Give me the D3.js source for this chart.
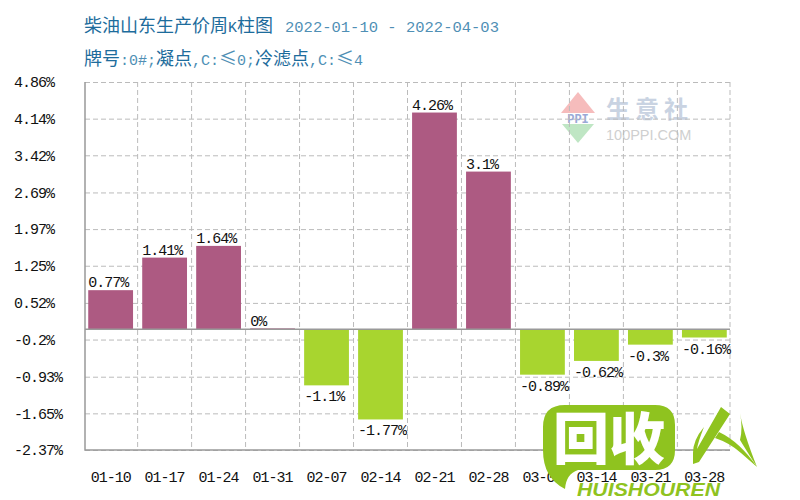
<!DOCTYPE html>
<html>
<head>
<meta charset="utf-8">
<script src="https://cdn.jsdelivr.net/npm/d3@7"></script>
<style>
    html, body { margin: 0; padding: 0; background: #fff; }
    svg { display: block; }
    text { font-family: "Liberation Mono", "Noto Sans CJK SC", monospace; }
    .cjk { font-family: "Noto Sans CJK SC", sans-serif; }
    .grid-lines line { stroke: #bbb; stroke-dasharray: 5 3; }
    .yAxis text, .xAxis text, .value-label { font-size: 15px; letter-spacing: -1px; fill: #111; }
</style>
</head>
<body>
<div id="chart"></div>
<script>
var categories = ["01-10", "01-17", "01-24", "01-31", "02-07", "02-14", "02-21", "02-28", "03-07", "03-14", "03-21", "03-28"];
var values = [0.77, 1.41, 1.64, 0, -1.1, -1.77, 4.26, 3.1, -0.89, -0.62, -0.3, -0.16];
var yTicks = [4.86, 4.14, 3.42, 2.69, 1.97, 1.25, 0.52, -0.2, -0.93, -1.65, -2.37];

var margin = { top: 82, right: 70, bottom: 50, left: 85 }
    , width = 800 - margin.left - margin.right
    , height = 500 - margin.top - margin.bottom;

var svg = d3.select("#chart").append("svg")
    .attr("width", 800)
    .attr("height", 500);

// title lines, mixed CJK and half width text
function titleLine(y, parts) {
    var t = svg.append("text").attr("x", 84).attr("y", y);
    parts.forEach(function (p) {
        t.append("tspan")
            .attr("class", p.cjk ? "cjk" : null)
            .attr("x", p.x || null)
            .attr("font-size", p.size || (p.cjk ? 18 : 15))
            .attr("fill", p.fill)
            .text(p.text);
    });
}
var dark = "#1d6c9c", light = "#4f8fb5";
titleLine(32, [
    { text: "柴油山东生产价周", cjk: true, fill: dark },
    { text: "K", fill: dark },
    { text: "柱图", cjk: true, fill: dark },
    { text: "2022-01-10 - 2022-04-03", fill: light, x: 285, size: 15.5 }
]);
titleLine(65, [
    { text: "牌号", cjk: true, fill: dark },
    { text: ":0#;", fill: light },
    { text: "凝点", cjk: true, fill: dark },
    { text: ",C:", fill: light },
    { text: "≤", cjk: true, fill: light },
    { text: "0;", fill: light },
    { text: "冷滤点", cjk: true, fill: dark },
    { text: ",C:", fill: light },
    { text: "≤", cjk: true, fill: light },
    { text: "4", fill: light }
]);

var xScale = d3.scaleBand()
    .domain(categories)
    .range([0, width])
    .paddingInner(0.17)
    .paddingOuter(0.06);

var yScale = d3.scaleLinear()
    .domain([yTicks[yTicks.length - 1], yTicks[0]])
    .range([height, 0]);

var g = svg.append("g")
    .attr("transform", "translate(" + margin.left + "," + margin.top + ")");

// watermark sits under the grid
var mark = g.append("g").attr("transform", "translate(478,10)");
mark.append("path").attr("d", "M15 0 L32 21 L-2 21 Z").attr("fill", "#f6bcbc");
mark.append("path").attr("d", "M-1 32 L31 32 L15 51 Z").attr("fill", "#bfe6c4");
mark.append("text").attr("x", 15).attr("y", 31)
    .attr("font-size", 12).attr("font-weight", 700)
    .attr("text-anchor", "middle")
    .attr("fill", "#9aa9d6")
    .text("PPI");
mark.append("text").attr("class", "cjk").attr("x", 43).attr("y", 26)
    .attr("font-size", 24).attr("letter-spacing", 5).attr("font-weight", 700)
    .attr("fill", "#c9d3e2").text("生意社");
mark.append("text").attr("x", 43).attr("y", 48)
    .attr("font-size", 14.5).attr("fill", "#cfcfcf")
    .style("font-family", "'Liberation Sans', sans-serif")
    .text("100PPI.COM");

// horizontal grid lines
g.append("g")
    .attr("class", "grid-lines")
    .call(d3.axisLeft(yScale)
        .tickValues(yTicks)
        .tickSize(-width)
        .tickFormat("")
    )
    .call((s) => { s.select(".domain").remove() });

// vertical grid lines between the bars
var gap = xScale.step() - xScale.bandwidth();
g.append("g")
    .attr("class", "grid-lines")
    .selectAll("line")
    .data(categories.slice(1))
    .enter().append("line")
    .attr("x1", (d) => xScale(d) - gap / 2)
    .attr("x2", (d) => xScale(d) - gap / 2)
    .attr("y1", 0)
    .attr("y2", height);

g.append("line").attr("class", "right-edge")
    .attr("x1", width).attr("x2", width).attr("y1", 0).attr("y2", height)
    .attr("stroke", "#bbb").attr("stroke-dasharray", "5 3");

// bars
g.selectAll(".bar")
    .data(values)
    .enter().append("rect")
    .attr("class", "bar")
    .attr("x", (d, i) => xScale(categories[i]))
    .attr("y", (d) => yScale(Math.max(d, 0)) - (d === 0 ? 1 : 0))
    .attr("width", xScale.bandwidth())
    .attr("height", (d) => d === 0 ? 1 : Math.abs(yScale(d) - yScale(0)))
    .attr("fill", (d) => d >= 0 ? "#ad5a82" : "#a8d52f");

// frame and zero line
g.append("path")
    .attr("d", "M0,0V" + height + "H" + width)
    .attr("fill", "none")
    .attr("stroke", "#999")
    .attr("stroke-width", 1.5);
g.append("line")
    .attr("x1", 0).attr("x2", width)
    .attr("y1", yScale(0)).attr("y2", yScale(0))
    .attr("stroke", "#999").attr("stroke-width", 1.5);

// value labels start at the left edge of each bar
g.selectAll(".value-label")
    .data(values)
    .enter().append("text")
    .attr("class", "value-label")
    .attr("x", (d, i) => xScale(categories[i]))
    .attr("y", (d) => d >= 0 ? yScale(d) - 3 : yScale(d) + 16)
    .text((d) => d + "%");

// Y axis
g.append("g")
    .attr("class", "yAxis")
    .call(d3.axisLeft(yScale).tickValues(yTicks).tickSize(0).tickFormat((d) => d + "%"))
    .call((s) => { s.select(".domain").remove() })
    .selectAll("text")
    .attr("x", 14 - margin.left)
    .style("text-anchor", "start");

// site logo stamped over the corner, drawn before the X axis labels except for the bubble
var logo = svg.append("g");
logo.append("text")
    .attr("x", 577).attr("y", 496)
    .attr("font-size", 18).attr("font-weight", 700).attr("font-style", "italic")
    .attr("textLength", 143)
    .attr("lengthAdjust", "spacingAndGlyphs")
    .attr("fill", "#8fc31f")
    .style("font-family", "'Liberation Sans', sans-serif")
    .text("HUISHOUREN");

// X axis
g.append("g")
    .attr("class", "xAxis")
    .attr("transform", "translate(0," + height + ")")
    .call(d3.axisBottom(xScale).tickSize(0).tickPadding(21))
    .call((s) => { s.select(".domain").remove() });

var bubble = svg.append("g");
bubble.append("path")
    .attr("d", "M565 405 H655 Q675 405 675 425 V450 Q675 470 655 470 H578 Q566 474 565 489 Q543 478 543 450 V427 Q543 405 565 405 Z")
    .attr("fill", "#8fc31f");
bubble.append("text").attr("class", "cjk")
    .attr("x", 553).attr("y", 459)
    .attr("font-size", 56).attr("font-weight", 900)
    .attr("fill", "#fff")
    .text("回收");
bubble.append("path")
    .attr("d", "M721 407 L730 414 L699 462 L693 464 L693 453 Q693 440 704 427 Q698 442 697 449 Z")
    .attr("fill", "#8fc31f");
bubble.append("path")
    .attr("d", "M719 432 Q740 442 757 467 L741 453 Q730 443 715 438 Z")
    .attr("fill", "#8fc31f");
bubble.append("path")
    .attr("d", "M740 413 Q743 432 757 467 Q746 450 740 440 Q743 428 740 413 Z")
    .attr("fill", "#8fc31f");
</script>
</body>
</html>
